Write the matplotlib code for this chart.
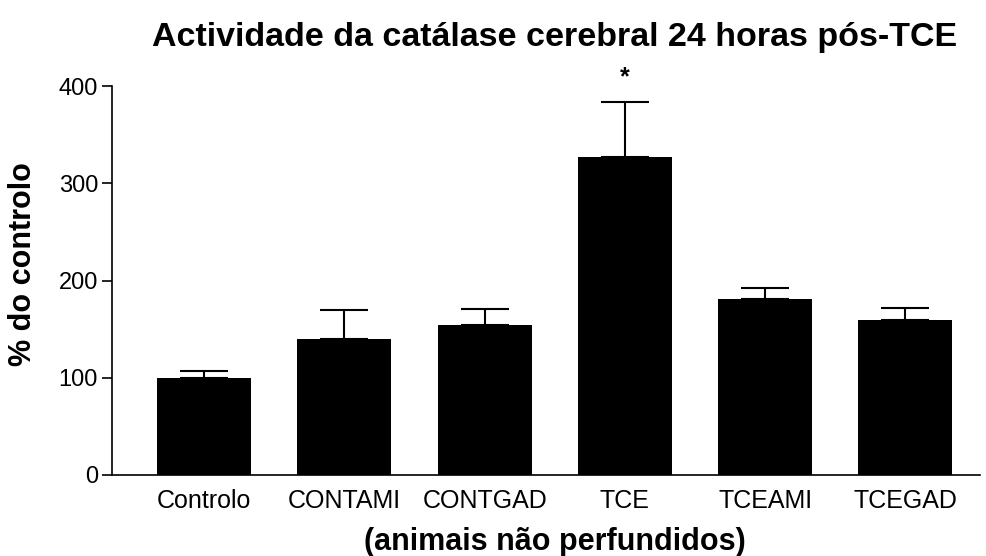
import matplotlib.pyplot as plt
import numpy as np

plt.rcParams['font.family'] = ['Liberation Sans', 'DejaVu Sans']

# dados (% do controlo)
grupos = ['Controlo', 'CONTAMI', 'CONTGAD', 'TCE', 'TCEAMI', 'TCEGAD']
medias = [100, 140, 154, 327, 181, 159]
erros = [7, 30, 17, 57, 11, 13]
significativo = [False, False, False, True, False, False]

fig = plt.figure(figsize=(9.86, 5.56), dpi=100)
ax = fig.add_axes([0.1136, 0.1457, 0.880, 0.6996])

x = np.arange(len(grupos))
ax.bar(x, medias, width=0.67, color='black')
ax.errorbar(x, medias, yerr=[np.zeros(len(erros)), erros], fmt='none',
            ecolor='black', elinewidth=1.5, capsize=17, capthick=1.5)

# asterisco de significancia
for xi, m, e, s in zip(x, medias, erros, significativo):
    if s:
        ax.text(xi, m + e + 13, '*', ha='center', va='bottom', fontsize=18,
                fontweight='bold')

ax.set_xlim(-0.657, 5.53)
ax.set_ylim(0, 400)
ax.set_yticks([0, 100, 200, 300, 400])
ax.set_xticks(x)
ax.set_xticklabels(grupos)
ax.tick_params(axis='x', length=0, pad=10, labelsize=18)
ax.tick_params(axis='y', length=7, width=1.2, pad=3, labelsize=17)

ax.spines['top'].set_visible(False)
ax.spines['right'].set_visible(False)
ax.spines['left'].set_linewidth(1.2)
ax.spines['bottom'].set_linewidth(1.2)

# rotulos dos eixos e titulo
fig.text(23 / 986, 1 - 264 / 556, '% do controlo', rotation=90,
         ha='center', va='center', fontsize=22, fontweight='bold')
fig.text(555 / 986, 1 - 542 / 556, '(animais não perfundidos)',
         ha='center', va='center', fontsize=22, fontweight='bold')
fig.text(0.562, 0.932, 'Actividade da catálase cerebral 24 horas pós-TCE',
         ha='center', va='center', fontsize=24.5, fontweight='bold')

plt.savefig('out.png', dpi=100)
